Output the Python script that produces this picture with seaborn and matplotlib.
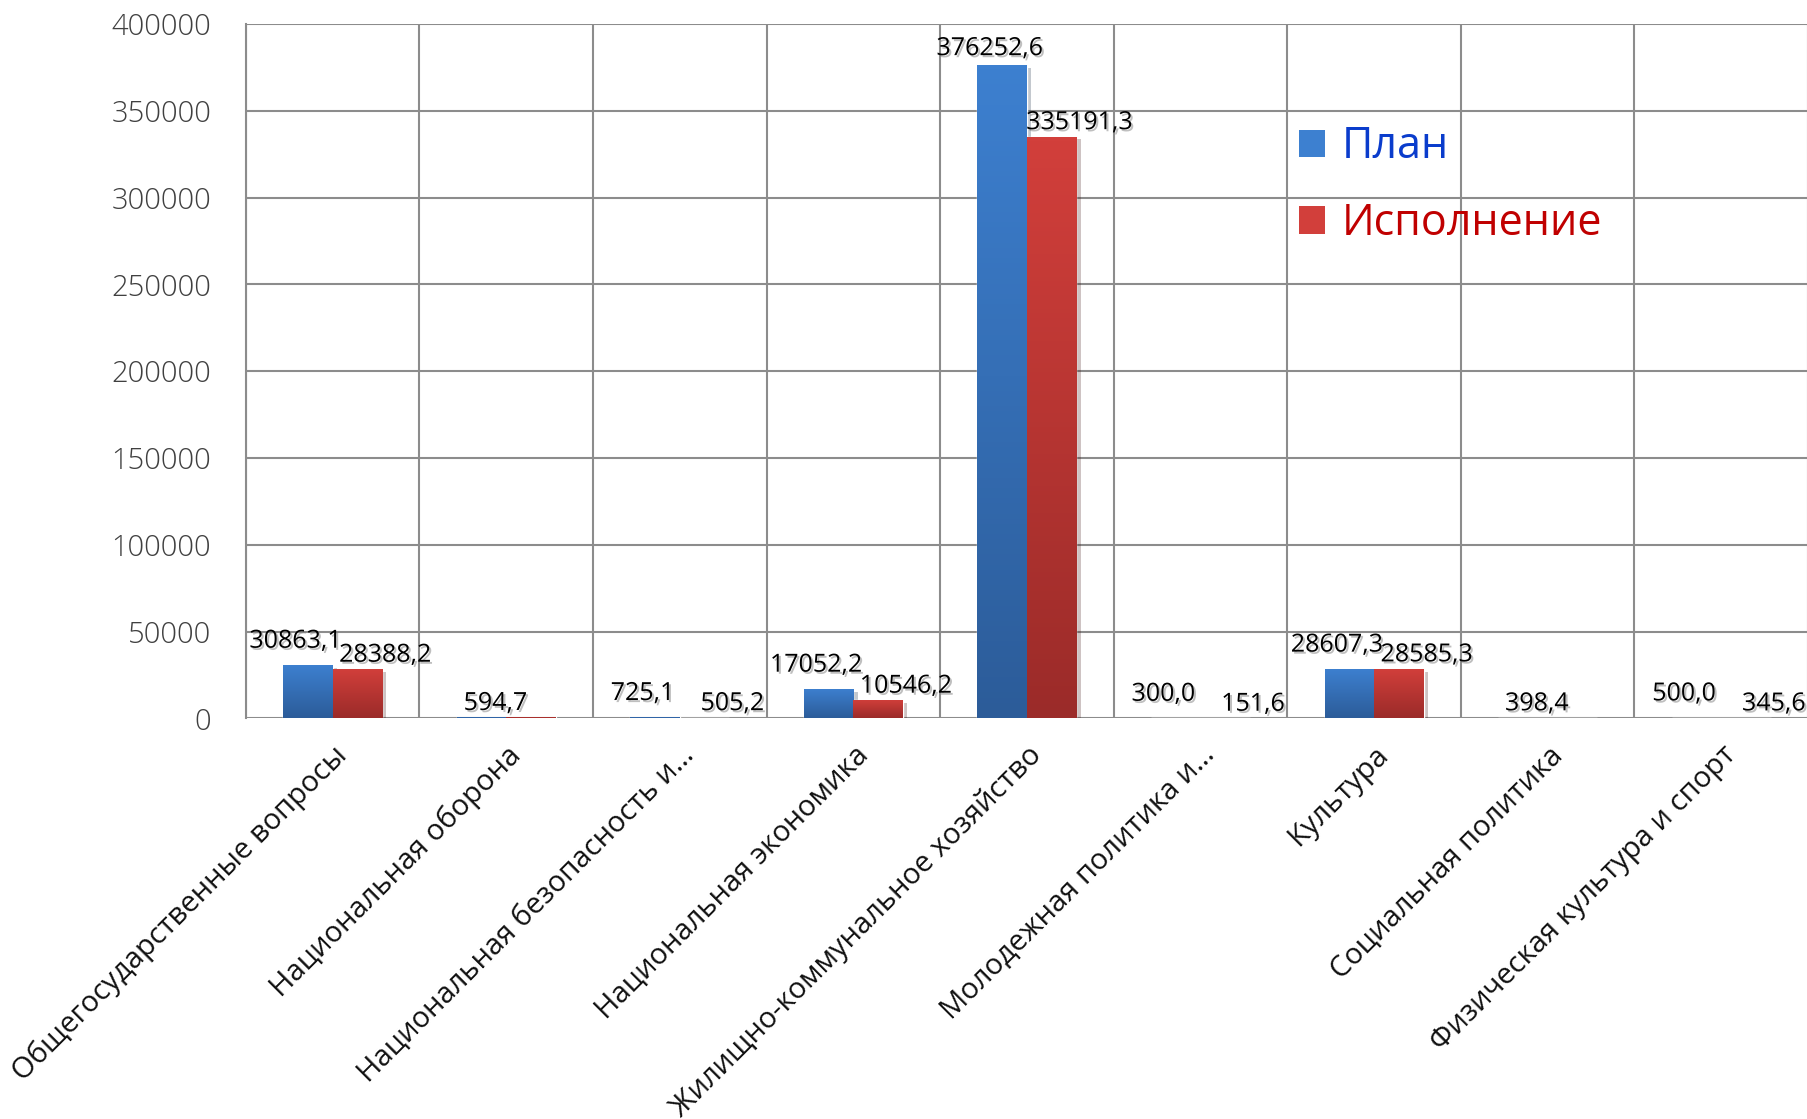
import numpy as np
import pandas as pd
import matplotlib
matplotlib.use("Agg")
import matplotlib.pyplot as plt
import matplotlib.patheffects as pe
from matplotlib.colors import LinearSegmentedColormap
import seaborn as sns

# data
categories = ["Общегосударственные вопросы", "Национальная оборона",
              "Национальная безопасность и…", "Национальная экономика",
              "Жилищно-коммунальное хозяйство", "Молодежная политика и…",
              "Культура", "Социальная политика", "Физическая культура и спорт"]
plan = [30863.1, 594.7, 725.1, 17052.2, 376252.6, 300.0, 28607.3, 398.4, 500.0]
execution = [28388.2, 594.7, 505.2, 10546.2, 335191.3, 151.6, 28585.3, 398.4, 345.6]
series_names = ["План", "Исполнение"]
yticks = list(range(0, 400001, 50000))

df = pd.DataFrame({
    "cat": categories * 2,
    "value": plan + execution,
    "series": [series_names[0]] * 9 + [series_names[1]] * 9,
})

sns.set_style("white")
plt.rcParams["font.family"] = ["Open Sans", "DejaVu Sans"]

blue_top, blue_bot = "#3d80d0", "#2c5c99"
red_top, red_bot = "#d23f3b", "#9b2b29"
grid_c = "#8c8c8c"

fig = plt.figure(figsize=(18.08, 11.19), dpi=100)
ax = fig.add_axes([0.136, 0.358, 0.864, 0.6205])

sns.barplot(data=df, x="cat", y="value", hue="series", palette=[blue_top, red_top],
            width=0.57, ax=ax, saturation=1)

ax.set_yticks(yticks)
ax.set_yticklabels([str(t) for t in yticks], fontsize=21, color="#404040", fontweight="light")
ax.set_xticks(range(len(categories)))
ax.set_xticklabels(categories, rotation=45, ha="right", rotation_mode="anchor",
                   fontsize=21, color="#111111")
ax.set_xticks(np.arange(-0.5, 8.6, 1), minor=True)
ax.tick_params(axis="x", which="major", length=0, pad=16)
ax.tick_params(axis="x", which="minor", length=11, width=1.5, color=grid_c)
ax.tick_params(axis="y", length=11, width=1.5, color=grid_c, pad=14)
ax.set_xlabel("")
ax.set_ylabel("")
ax.grid(axis="y", which="major", color=grid_c, lw=1.5)
ax.grid(axis="x", which="minor", color=grid_c, lw=1.5)
ax.set_axisbelow(True)
for s in ["top", "right", "bottom"]:
    ax.spines[s].set_visible(False)
ax.spines["left"].set_color(grid_c)
ax.spines["left"].set_linewidth(1.5)

# gradient fill for bars, with a soft shadow
grad = np.linspace(0, 1, 128).reshape(-1, 1)
cmaps = [LinearSegmentedColormap.from_list("b", [blue_top, blue_bot]),
         LinearSegmentedColormap.from_list("r", [red_top, red_bot])]
for cont, cm in zip(ax.containers, cmaps):
    for p in cont.patches:
        p.set_path_effects([pe.SimplePatchShadow(offset=(3, -2), alpha=0.25), pe.Normal()])
        x0, y0, w, h = p.get_x(), p.get_y(), p.get_width(), p.get_height()
        if h <= 0:
            continue
        im = ax.imshow(grad, extent=[x0, x0 + w, y0, y0 + h], aspect="auto",
                       cmap=cm, zorder=p.get_zorder() + 0.1)
        im.set_clip_path(p)
ax.set_xlim(-0.5, 8.5)
ax.set_ylim(0, 400000)


def fmt(v):
    return f"{v:.1f}".replace(".", ",")


lbl_fx = [pe.withSimplePatchShadow(offset=(1.5, -1.5), shadow_rgbFace="gray", alpha=0.5)]
plan_bars = ax.containers[0].patches
exec_bars = ax.containers[1].patches
for i in range(len(categories)):
    pb, eb = plan_bars[i], exec_bars[i]
    if plan[i] == execution[i]:
        # Excel merged the two identical labels into one
        ax.annotate(fmt(plan[i]), (pb.get_x() + pb.get_width() / 2, pb.get_height()),
                    xytext=(10, 1), textcoords="offset points", ha="center", va="bottom",
                    fontsize=18, color="black", path_effects=lbl_fx)
        continue
    dy = 3 if plan[i] > 200000 else 8
    ax.annotate(fmt(plan[i]), (pb.get_x() + pb.get_width() / 2, pb.get_height()),
                xytext=(-9, dy), textcoords="offset points", ha="center", va="bottom",
                fontsize=18, color="black", path_effects=lbl_fx)
    ax.annotate(fmt(execution[i]), (eb.get_x() + eb.get_width() / 2, eb.get_height()),
                xytext=(20, 1), textcoords="offset points", ha="center", va="bottom",
                fontsize=18, color="black", path_effects=lbl_fx)

leg = ax.legend(loc="upper left", bbox_to_anchor=(0.697, 0.923), bbox_transform=fig.transFigure,
                frameon=False, fontsize=31, handlelength=0.6, handleheight=0.6,
                handletextpad=0.4, labelspacing=0.75)
for t, c in zip(leg.get_texts(), ["#0a3ccc", "#c00000"]):
    t.set_color(c)
for h, c in zip(leg.legend_handles, [blue_top, red_top]):
    h.set_facecolor(c)
    h.set_edgecolor("none")

fig.savefig("out.png", dpi=100)
